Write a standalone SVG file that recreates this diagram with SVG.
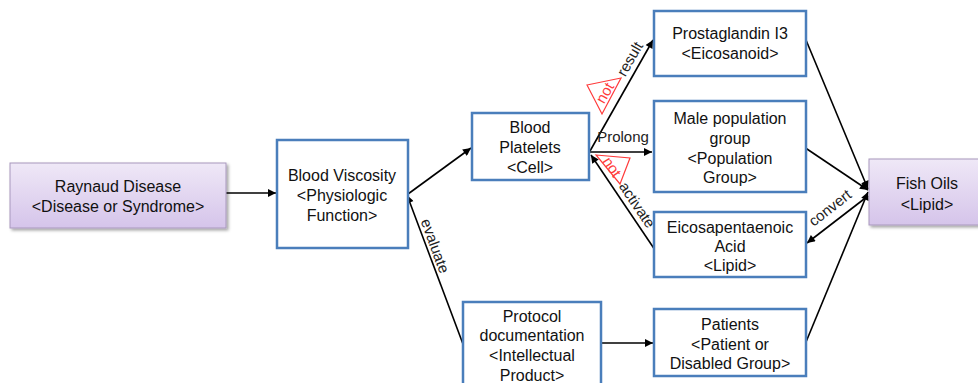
<svg xmlns="http://www.w3.org/2000/svg" width="978" height="383" viewBox="0 0 978 383">
<style>
.box{fill:#fff;stroke:#4a7ebb;stroke-width:2.5}
.lav{fill:url(#lg);stroke:#a898bd;stroke-width:1}
.t{font-family:"Liberation Sans",Arial,sans-serif;font-size:16px;fill:#111;text-anchor:middle}
.l{font-family:"Liberation Sans",Arial,sans-serif;font-size:15px;fill:#222;text-anchor:middle}
.n{font-family:"Liberation Sans",Arial,sans-serif;font-size:15px;fill:#ff3b3b;text-anchor:middle}
.c{stroke:#000;stroke-width:1.6;fill:none;marker-end:url(#ah)}
.tri{fill:#fff;stroke:#ff3b3b;stroke-width:1.2}
</style>
<defs>
<linearGradient id="lg" x1="0" y1="0" x2="0" y2="1">
<stop offset="0" stop-color="#efe8f7"/>
<stop offset="1" stop-color="#d5c4ea"/>
</linearGradient>
<filter id="sh" x="-10%" y="-10%" width="130%" height="140%">
<feDropShadow dx="2" dy="2" stdDeviation="1.5" flood-color="#000" flood-opacity="0.35"/>
</filter>
<marker id="ah" viewBox="0 0 10 10" refX="10" refY="5" markerWidth="9" markerHeight="8" markerUnits="userSpaceOnUse" orient="auto">
<path d="M0,0 L10,5 L0,10 z" fill="#000"/>
</marker>
</defs>

<g id="connectors">
<line class="c" x1="226" y1="193" x2="276" y2="193"/>
<line class="c" x1="408" y1="194" x2="471" y2="148"/>
<line class="c" x1="463" y1="344" x2="407" y2="195"/>
<line class="c" x1="590" y1="151" x2="653" y2="40"/>
<line class="c" x1="590" y1="152" x2="652" y2="152"/>
<line class="c" x1="655" y1="250" x2="591" y2="155"/>
<line class="c" x1="806" y1="40" x2="868" y2="189"/>
<line class="c" x1="804" y1="147" x2="868" y2="190"/>
<line class="c" x1="806" y1="342" x2="868" y2="192"/>
<line class="c" x1="868" y1="196" x2="807" y2="243"/>
<line class="c" x1="601" y1="343" x2="653" y2="343"/>
<text class="l" transform="translate(630,59) rotate(-60)" y="5">result</text>
<polygon class="tri" points="587,85 621,78 602,114"/>
<text class="n" transform="translate(605,93) rotate(-60)" y="5">not</text>
<text class="l" x="623" y="142">Prolong</text>
<polygon class="tri" points="596,155 630,158 620,184"/>
<text class="n" transform="translate(612,167) rotate(56)" y="5">not</text>
<text class="l" transform="translate(637,205) rotate(56)" y="5">activate</text>
<text class="l" transform="translate(435,246) rotate(70)" y="5">evaluate</text>
<text class="l" transform="translate(830,208) rotate(-38)" y="5">convert</text>
</g>

<g id="raynaud">
<rect class="lav" x="10" y="163" width="216" height="65" filter="url(#sh)"/>
<text class="t" x="118" y="192">Raynaud Disease</text>
<text class="t" x="118" y="212">&lt;Disease or Syndrome&gt;</text>
</g>
<g id="blood-viscosity">
<rect class="box" x="277" y="140" width="131" height="108"/>
<text class="t" x="342" y="181">Blood Viscosity</text>
<text class="t" x="342" y="201">&lt;Physiologic</text>
<text class="t" x="342" y="221">Function&gt;</text>
</g>
<g id="blood-platelets">
<rect class="box" x="472" y="113" width="117" height="67"/>
<text class="t" x="530" y="133">Blood</text>
<text class="t" x="530" y="153">Platelets</text>
<text class="t" x="530" y="173">&lt;Cell&gt;</text>
</g>
<g id="prostaglandin">
<rect class="box" x="654" y="11" width="152" height="65"/>
<text class="t" x="730" y="39">Prostaglandin I3</text>
<text class="t" x="730" y="59">&lt;Eicosanoid&gt;</text>
</g>
<g id="male-population">
<rect class="box" x="654" y="101" width="152" height="91"/>
<text class="t" x="730" y="124">Male population</text>
<text class="t" x="730" y="144">group</text>
<text class="t" x="730" y="164">&lt;Population</text>
<text class="t" x="730" y="183">Group&gt;</text>
</g>
<g id="epa">
<rect class="box" x="654" y="212" width="152" height="65"/>
<text class="t" x="730" y="233">Eicosapentaenoic</text>
<text class="t" x="730" y="252">Acid</text>
<text class="t" x="730" y="271">&lt;Lipid&gt;</text>
</g>
<g id="patients">
<rect class="box" x="654" y="309" width="152" height="67"/>
<text class="t" x="730" y="330">Patients</text>
<text class="t" x="730" y="350">&lt;Patient or</text>
<text class="t" x="730" y="369">Disabled Group&gt;</text>
</g>
<g id="protocol">
<rect class="box" x="463" y="302" width="138" height="90"/>
<text class="t" x="532" y="322">Protocol</text>
<text class="t" x="532" y="341">documentation</text>
<text class="t" x="532" y="361">&lt;Intellectual</text>
<text class="t" x="532" y="381">Product&gt;</text>
</g>
<g id="fish-oils">
<rect class="lav" x="869" y="159" width="116" height="66" filter="url(#sh)"/>
<text class="t" x="927" y="189">Fish Oils</text>
<text class="t" x="927" y="210">&lt;Lipid&gt;</text>
</g>
</svg>
